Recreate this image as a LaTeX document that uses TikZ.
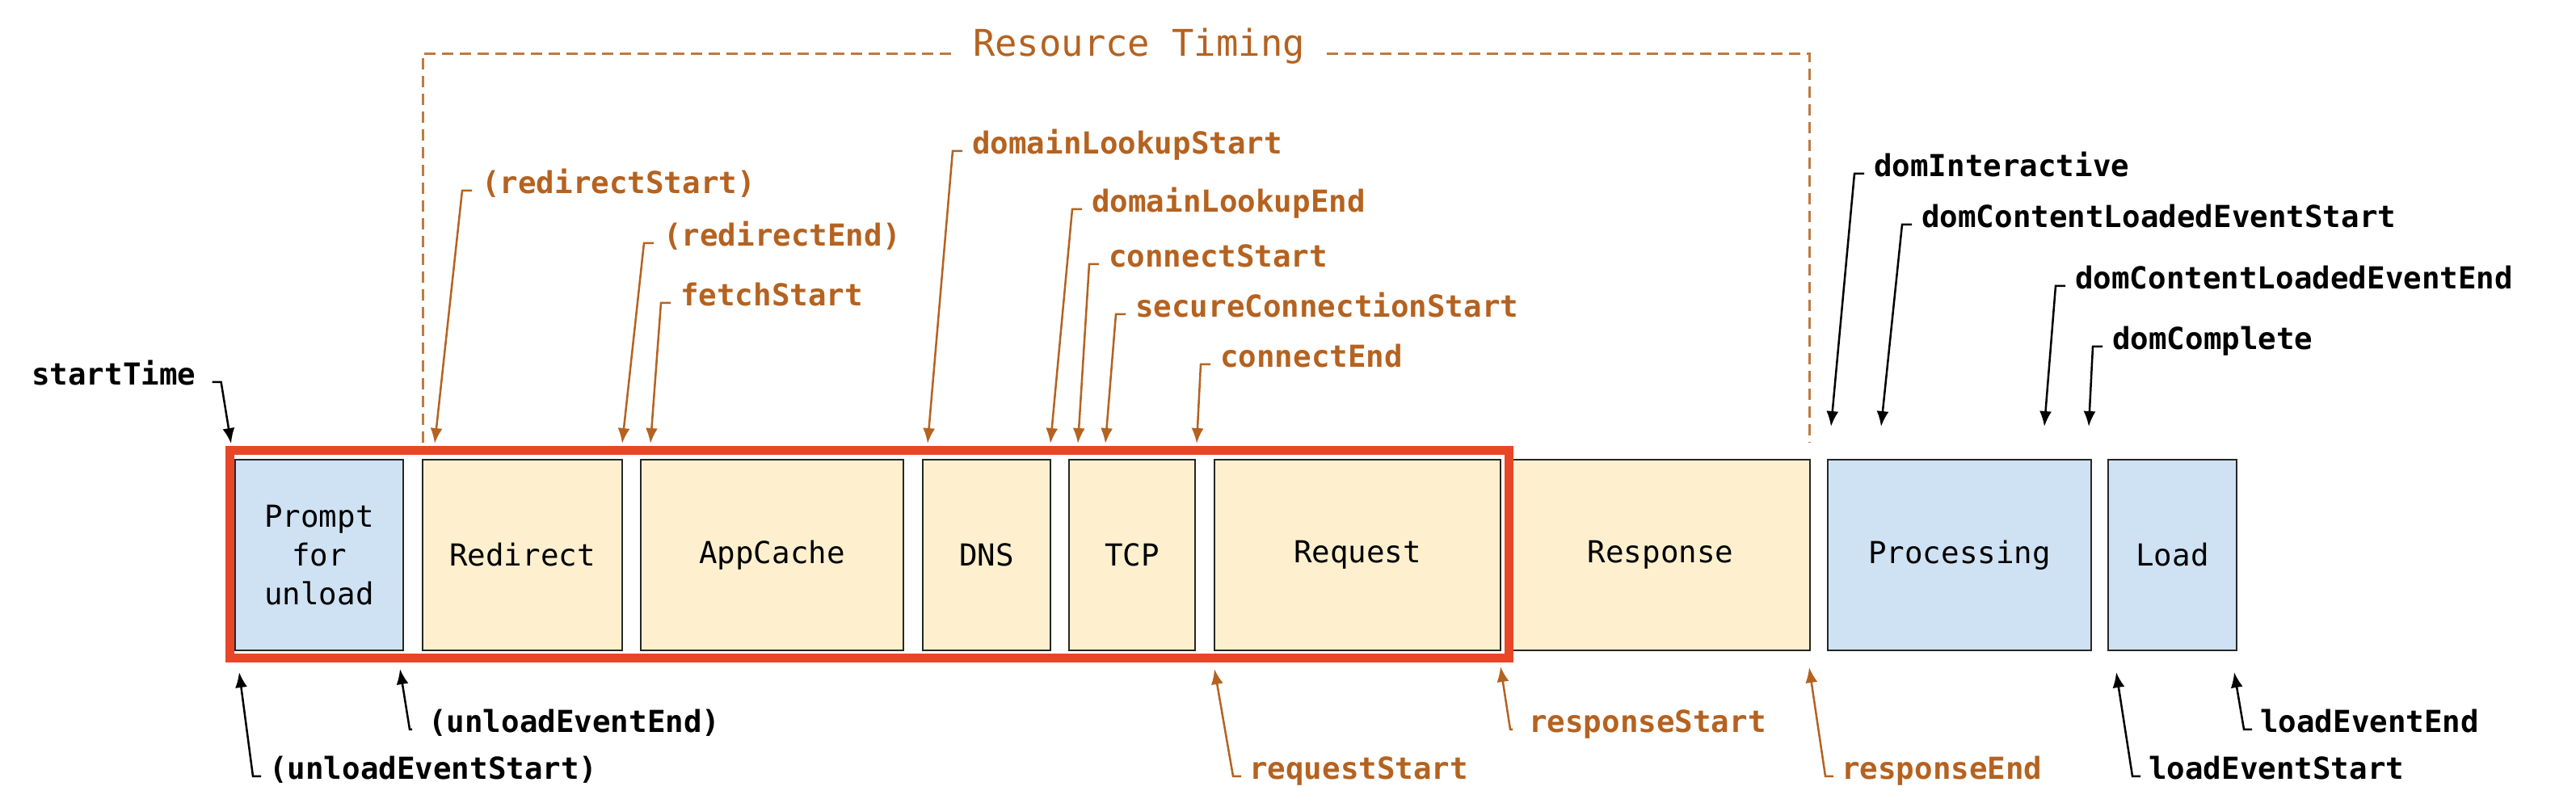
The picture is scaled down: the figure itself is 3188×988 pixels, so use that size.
\documentclass[tikz,border=0pt]{standalone}
\usepackage{fontspec}
\setmonofont{DejaVu Sans Mono}
\usetikzlibrary{arrows.meta}
\definecolor{rtorange}{RGB}{181,98,32}
\definecolor{framered}{RGB}{233,70,40}
\definecolor{nyellow}{RGB}{254,240,206}
\definecolor{nblue}{RGB}{207,226,243}
\tikzset{
 phase/.style={draw=black!85, line width=2.5pt, inner sep=0pt, minimum height=236pt, font=\ttfamily\fontsize{37.5}{48}\selectfont, align=center},
 ybox/.style={phase, fill=nyellow},
 bbox/.style={phase, fill=nblue},
 evlabel/.style={inner sep=0pt, anchor=base west, text height=0.65em, text depth=0pt, font=\ttfamily\bfseries\fontsize{37.5}{45}\selectfont},
 olabel/.style={evlabel, text=rtorange},
 klabel/.style={evlabel, text=black},
 oarrow/.style={draw=rtorange, line width=2.5pt, -{Latex[length=19pt,width=15pt]}},
 karrow/.style={draw=black, line width=2.5pt, -{Latex[length=19pt,width=15pt]}},
 bracket/.style={draw=rtorange!85, line width=3pt, dash pattern=on 14pt off 8pt},
}
\begin{document}
\begin{tikzpicture}[x=1pt,y=-1pt]
\useasboundingbox[fill=white] (0,0) rectangle (3188,988);

% phase boxes
\node[bbox, minimum width=208pt] (prompt) at (395,687) {Prompt\\for\\unload};
\node[ybox, minimum width=247pt] (redirect) at (646.5,687) {Redirect};
\node[ybox, minimum width=325pt] (appcache) at (955.5,687) {AppCache};
\node[ybox, minimum width=158pt] (dns) at (1221,687) {DNS};
\node[ybox, minimum width=156pt] (tcp) at (1401,687) {TCP};
\node[ybox, minimum width=354pt] (request) at (1680,687) {Request};
\node[ybox, minimum width=370pt] (response) at (2055,687) {Response};
\node[bbox, minimum width=326pt] (processing) at (2425,687) {Processing};
\node[bbox, minimum width=159pt] (load) at (2688.5,687) {Load};

% red highlight frame
\node[draw=framered, line width=11pt, inner sep=0pt, minimum width=1583pt, minimum height=256.5pt] (hl) at (1075.5,685.75) {};

% Resource Timing bracket
\node[text=rtorange, font=\ttfamily\fontsize{45.5}{50}\selectfont, text height=0.729em, text depth=0pt, inner xsep=27pt, inner ysep=0pt] (rt) at (1409.5,66) {Resource Timing};
\coordinate (bl) at (523,548);
\coordinate (br) at (2239,548);
\draw[bracket] (rt.west) -| (bl);
\draw[bracket] (rt.east) -| (br);

% top labels
\node[klabel] (st) at (39,476) {startTime};
\coordinate (st-t) at (286,549);
\draw[karrow] ([xshift=20pt]st.east) -- ([xshift=31pt]st.east) -- (st-t);

\node[olabel] (rs) at (596,239) {(redirectStart)};
\coordinate (rs-t) at (538,549);
\draw[oarrow] ([xshift=-12pt]rs.west) -- ([xshift=-24pt]rs.west) -- (rs-t);

\node[olabel] (re) at (821,304) {(redirectEnd)};
\coordinate (re-t) at (770,549);
\draw[oarrow] ([xshift=-12pt]re.west) -- ([xshift=-24pt]re.west) -- (re-t);

\node[olabel] (fs) at (842,378) {fetchStart};
\coordinate (fs-t) at (805,549);
\draw[oarrow] ([xshift=-12pt]fs.west) -- ([xshift=-24pt]fs.west) -- (fs-t);

\node[olabel] (dls) at (1203,190) {domainLookupStart};
\coordinate (dls-t) at (1148,549);
\draw[oarrow] ([xshift=-12pt]dls.west) -- ([xshift=-24pt]dls.west) -- (dls-t);

\node[olabel] (dle) at (1351,262) {domainLookupEnd};
\coordinate (dle-t) at (1300,549);
\draw[oarrow] ([xshift=-12pt]dle.west) -- ([xshift=-24pt]dle.west) -- (dle-t);

\node[olabel] (cs) at (1372,330) {connectStart};
\coordinate (cs-t) at (1334,549);
\draw[oarrow] ([xshift=-12pt]cs.west) -- ([xshift=-24pt]cs.west) -- (cs-t);

\node[olabel] (scs) at (1405,392) {secureConnectionStart};
\coordinate (scs-t) at (1368,549);
\draw[oarrow] ([xshift=-12pt]scs.west) -- ([xshift=-24pt]scs.west) -- (scs-t);

\node[olabel] (ce) at (1510,454) {connectEnd};
\coordinate (ce-t) at (1481,549);
\draw[oarrow] ([xshift=-12pt]ce.west) -- ([xshift=-24pt]ce.west) -- (ce-t);

\node[klabel] (di) at (2319,218) {domInteractive};
\coordinate (di-t) at (2266,528);
\draw[karrow] ([xshift=-12pt]di.west) -- ([xshift=-24pt]di.west) -- (di-t);

\node[klabel] (dcs) at (2378,281) {domContentLoadedEventStart};
\coordinate (dcs-t) at (2328,528);
\draw[karrow] ([xshift=-12pt]dcs.west) -- ([xshift=-24pt]dcs.west) -- (dcs-t);

\node[klabel] (dce) at (2568,357) {domContentLoadedEventEnd};
\coordinate (dce-t) at (2530,528);
\draw[karrow] ([xshift=-12pt]dce.west) -- ([xshift=-24pt]dce.west) -- (dce-t);

\node[klabel] (dc) at (2614,432) {domComplete};
\coordinate (dc-t) at (2585,528);
\draw[karrow] ([xshift=-12pt]dc.west) -- ([xshift=-24pt]dc.west) -- (dc-t);

% bottom labels
\node[klabel] (ues) at (333,964) {(unloadEventStart)};
\coordinate (ues-t) at (296,832);
\draw[karrow] ([xshift=-10pt]ues.west) -- ([xshift=-20pt]ues.west) -- (ues-t);

\node[klabel] (uee) at (530,906) {(unloadEventEnd)};
\coordinate (uee-t) at (495,828);
\draw[karrow] ([xshift=-20pt]uee.west) -- ([xshift=-23pt]uee.west) -- (uee-t);

\node[olabel] (rqs) at (1546,964) {requestStart};
\coordinate (rqs-t) at (1503,828);
\draw[oarrow] ([xshift=-10pt]rqs.west) -- ([xshift=-20pt]rqs.west) -- (rqs-t);

\node[olabel] (rps) at (1892,906) {responseStart};
\coordinate (rps-t) at (1857,825);
\draw[oarrow] ([xshift=-20pt]rps.west) -- ([xshift=-23pt]rps.west) -- (rps-t);

\node[olabel] (rpe) at (2279,964) {responseEnd};
\coordinate (rpe-t) at (2239,826);
\draw[oarrow] ([xshift=-10pt]rpe.west) -- ([xshift=-20pt]rpe.west) -- (rpe-t);

\node[klabel] (les) at (2659,964) {loadEventStart};
\coordinate (les-t) at (2619,832);
\draw[karrow] ([xshift=-10pt]les.west) -- ([xshift=-20pt]les.west) -- (les-t);

\node[klabel] (lee) at (2797,906) {loadEventEnd};
\coordinate (lee-t) at (2765,832);
\draw[karrow] ([xshift=-10pt]lee.west) -- ([xshift=-20pt]lee.west) -- (lee-t);
\end{tikzpicture}
\end{document}
